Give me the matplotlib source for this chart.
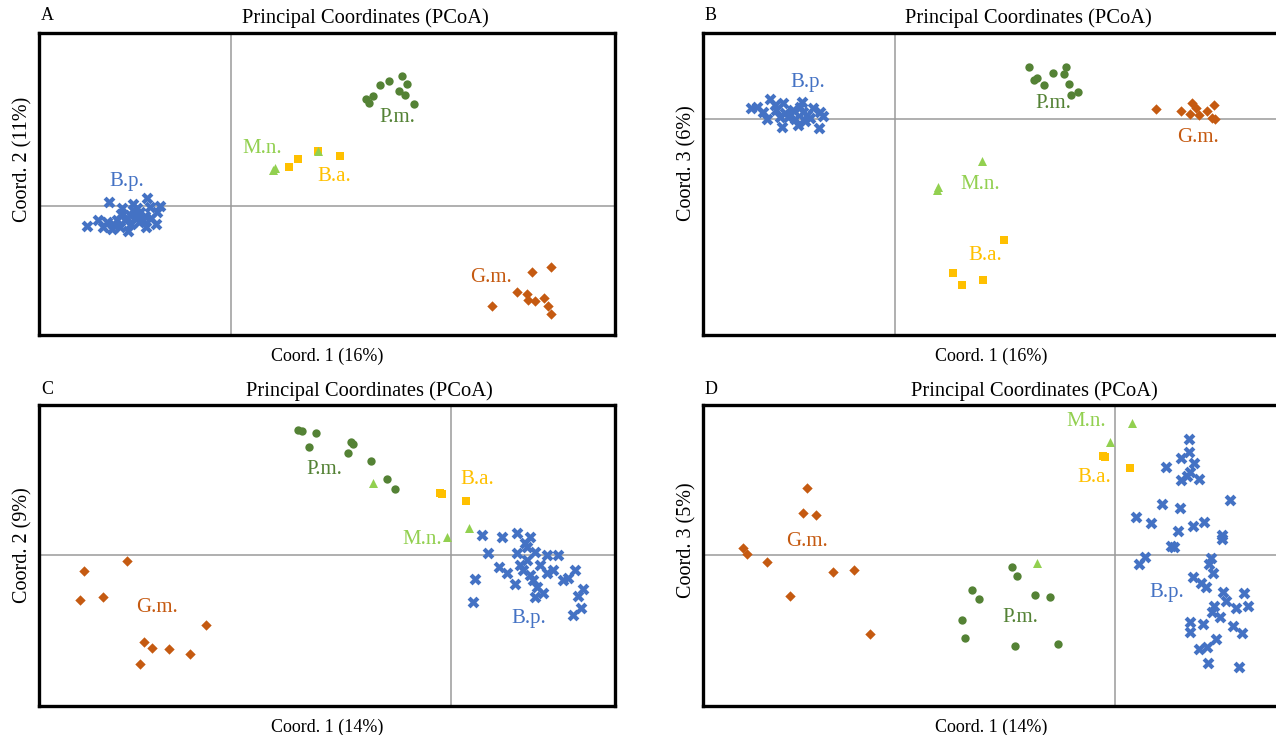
import matplotlib.pyplot as plt
import numpy as np

plt.rcParams['font.family'] = ['Liberation Serif', 'DejaVu Serif']

# colours of the five taxa (Excel-like palette)
COLORS = {
    "B.p.": "#4472C4",
    "P.m.": "#548235",
    "M.n.": "#92D050",
    "B.a.": "#FFC000",
    "G.m.": "#C55A11",
}
MARKERS = {"B.p.": "X", "P.m.": "o", "M.n.": "^", "B.a.": "s", "G.m.": "D"}
SIZES = {"B.p.": 72, "P.m.": 36, "M.n.": 42, "B.a.": 36, "G.m.": 28}

################################################################################
#  Coordinates (arbitrary PCoA units, origin at 0,0)
################################################################################

# panel A: Coord. 1 vs Coord. 2
a_bp_x = [-144, -133, -128, -122, -119, -111, -103, -109, -98, -84, -81, -71, -74, -75, -85,
          -94, -101, -91, -106, -114, -88, -98, -96, -104, -92, -100, -110, -86, -80, -118,
          -124, -94]
a_bp_y = [-20, -14, -21, 4, -23, -21, -25, -2, 2, 8, -1, 0, -6, -18, -21,
          -11, -9, -6, -14, -14, -14, -4, -8, -12, -16, -18, -8, -10, -12, -18,
          -16, -2]
a_pm_x = [135, 138, 142, 149, 158, 171, 176, 168, 174, 183]
a_pm_y = [107, 103, 110, 121, 125, 130, 122, 115, 111, 102]
a_mn_x = [44, 42, 87]
a_mn_y = [38, 36, 55]
a_ba_x = [58, 67, 87, 109]
a_ba_y = [39, 47, 55, 50]
a_gm_x = [261, 286, 296, 297, 304, 301, 320, 313, 317, 320]
a_gm_y = [-100, -86, -88, -94, -95, -66, -61, -92, -100, -108]

# panel B: Coord. 1 vs Coord. 3
b_bp_x = [-144, -125, -132, -128, -119, -112, -113, -105, -97, -93, -82, -85, -75, -72, -76,
          -102, -107, -92, -88, -110, -100, -95, -115, -90, -120, -138]
b_bp_y = [11, 20, 7, 0, 9, 16, -8, 4, -6, 17, 11, 1, 7, 3, -9,
          9, 2, 7, 4, 6, 0, 12, 2, -2, 14, 12]
b_pm_x = [134, 139, 142, 149, 158, 169, 171, 174, 176, 183]
b_pm_y = [52, 39, 41, 34, 46, 45, 52, 35, 24, 27]
b_mn_x = [43, 42, 87]
b_mn_y = [-68, -71, -42]
b_ba_x = [58, 67, 88, 109]
b_ba_y = [-154, -166, -161, -121]
b_gm_x = [261, 286, 295, 297, 301, 304, 312, 319, 317, 320]
b_gm_y = [10, 8, 5, 16, 11, 4, 8, 14, 1, 0]

# panel C: Coord. 1 vs Coord. 2
c_bp_x = [31, 51, 66, 79, 37, 76, 66, 84, 96, 107, 48, 56, 24, 22, 64, 72, 79, 89, 96, 102,
          112, 124, 117, 86, 92, 84, 132, 127, 130, 122, 76, 69, 82, 74]
c_bp_y = [20, 18, 22, 18, 2, 8, 2, 3, 0, 0, -12, -18, -24, -47, -29, -15, -20, -10, -18, -15,
          -25, -15, -23, -32, -38, -42, -34, -41, -53, -60, -5, -10, -25, 12]
c_pm_x = [-153, -149, -135, -142, -100, -98, -103, -80, -64, -56]
c_pm_y = [125, 124, 122, 108, 113, 111, 102, 94, 76, 66]
c_mn_x = [-78, -4, 18]
c_mn_y = [72, 18, 27]
c_ba_x = [-11, -9, 15]
c_ba_y = [62, 61, 54]
c_gm_x = [-367, -324, -371, -348, -245, -307, -299, -282, -261, -311]
c_gm_y = [-16, -6, -45, -42, -70, -87, -93, -94, -99, -109]

# panel D: Coord. 1 vs Coord. 3
d_bp_x = [74, 74, 66, 79, 51, 75, 72, 66, 84, 115, 47, 65, 21, 36, 78, 89, 63, 107, 107, 56,
          59, 30, 24, 96, 94, 98, 78, 86, 91, 108, 129, 111, 99, 97, 105, 121, 133, 75, 75,
          88, 118, 127, 101, 92, 84, 93, 124]
d_bp_y = [116, 103, 97, 92, 88, 83, 79, 75, 76, 55, 51, 47, 38, 32, 29, 33, 24, 20, 16, 9,
          8, -2, -9, -3, -9, -18, -22, -28, -32, -37, -38, -46, -51, -57, -62, -53, -51, -67,
          -77, -69, -71, -78, -84, -92, -94, -108, -112]
d_pm_x = [-143, -136, -153, -150, -103, -98, -80, -65, -100, -57]
d_pm_y = [-35, -44, -65, -83, -12, -21, -40, -42, -91, -89]
d_mn_x = [-78, -5, 17]
d_mn_y = [-8, 113, 132]
d_ba_x = [-12, -10, 15]
d_ba_y = [99, 98, 87]
d_gm_x = [-372, -368, -348, -308, -312, -299, -325, -282, -261, -245]
d_gm_y = [7, 1, -7, 67, 42, 40, -41, -17, -15, -79]

# where each taxon name is written in each panel
a_labels = {"B.p.": (-104, 25), "P.m.": (166, 89), "M.n.": (31, 58), "B.a.": (103, 30), "G.m.": (260, -71)}
b_labels = {"B.p.": (-87, 37), "P.m.": (158, 16), "M.n.": (85, -65), "B.a.": (90, -136), "G.m.": (303, -18)}
c_labels = {"B.p.": (78, -63), "P.m.": (-127, 85), "M.n.": (-29, 15), "B.a.": (26, 75), "G.m.": (-294, -53)}
d_labels = {"B.p.": (52, -38), "P.m.": (-95, -63), "M.n.": (-29, 133), "B.a.": (-21, 78), "G.m.": (-308, 13)}


def pcoa_panel(fig, rect, xlim, ylim, groups, labels, xlabel, ylabel, ylabel_pos):
    """
    Draw one PCoA scatter with grey zero axes and a heavy black frame
    """
    ax = fig.add_axes(rect)
    ax.set_xlim(xlim)
    ax.set_ylim(ylim)
    ax.axhline(0, color="#9A9A9A", lw=1.1, zorder=1)
    ax.axvline(0, color="#9A9A9A", lw=1.1, zorder=1)

    for name in ["B.p.", "P.m.", "G.m.", "B.a.", "M.n."]:
        xs, ys = groups[name]
        ax.scatter(xs, ys, marker=MARKERS[name], s=SIZES[name], color=COLORS[name],
                   linewidths=0, zorder=3)

    for name, (tx, ty) in labels.items():
        ax.text(tx, ty, name, color=COLORS[name], fontsize=15, ha="center", va="center", zorder=4)

    ax.set_xticks([])
    ax.set_yticks([])
    for spine in ax.spines.values():
        spine.set_linewidth(2.4)
        spine.set_color("black")
    ax.set_xlabel(xlabel, fontsize=13, labelpad=9)
    ax.set_ylabel(ylabel, fontsize=14.5)
    ax.yaxis.set_label_coords(-0.012, ylabel_pos)
    return ax


fig = plt.figure(figsize=(12.76, 7.35), dpi=100)
W, H = 1276.0, 735.0


def rect(left, top, right, bottom):
    return [left / W, 1 - bottom / H, (right - left) / W, (bottom - top) / H]


pcoa_panel(fig, rect(39, 33, 615, 335), (-192, 384), (-129, 173),
           {"B.p.": (a_bp_x, a_bp_y), "P.m.": (a_pm_x, a_pm_y), "M.n.": (a_mn_x, a_mn_y),
            "B.a.": (a_ba_x, a_ba_y), "G.m.": (a_gm_x, a_gm_y)},
           a_labels, "Coord. 1 (16%)", "Coord. 2 (11%)", 0.58)
pcoa_panel(fig, rect(703, 33, 1279, 335), (-192, 384), (-216, 86),
           {"B.p.": (b_bp_x, b_bp_y), "P.m.": (b_pm_x, b_pm_y), "M.n.": (b_mn_x, b_mn_y),
            "B.a.": (b_ba_x, b_ba_y), "G.m.": (b_gm_x, b_gm_y)},
           b_labels, "Coord. 1 (16%)", "Coord. 3 (6%)", 0.57)
pcoa_panel(fig, rect(39, 405, 615, 706), (-412, 164), (-151, 150),
           {"B.p.": (c_bp_x, c_bp_y), "P.m.": (c_pm_x, c_pm_y), "M.n.": (c_mn_x, c_mn_y),
            "B.a.": (c_ba_x, c_ba_y), "G.m.": (c_gm_x, c_gm_y)},
           c_labels, "Coord. 1 (14%)", "Coord. 2 (9%)", 0.535)
pcoa_panel(fig, rect(703, 405, 1279, 706), (-412, 164), (-151, 150),
           {"B.p.": (d_bp_x, d_bp_y), "P.m.": (d_pm_x, d_pm_y), "M.n.": (d_mn_x, d_mn_y),
            "B.a.": (d_ba_x, d_ba_y), "G.m.": (d_gm_x, d_gm_y)},
           d_labels, "Coord. 1 (14%)", "Coord. 3 (5%)", 0.55)

# titles and panel letters
for cx, cy in [(365, 18), (1028, 18), (369, 391), (1034, 391)]:
    fig.text(cx / W, 1 - cy / H, "Principal Coordinates (PCoA)", fontsize=14.8,
             ha="center", va="center")
for letter, lx, ly in [("A", 47, 16), ("B", 711, 16), ("C", 47, 390), ("D", 711, 390)]:
    fig.text(lx / W, 1 - ly / H, letter, fontsize=13, ha="center", va="center")

fig.savefig("out.png", dpi=100)
